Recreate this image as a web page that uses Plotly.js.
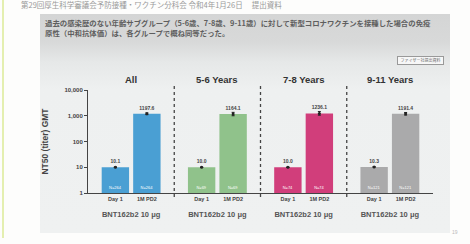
<!DOCTYPE html>
<html><head><meta charset="utf-8">
<script src="https://cdn.plot.ly/plotly-3.0.1.min.js"></script>
<style>
html,body{margin:0;padding:0;background:#fff;}
#wrap{position:relative;width:470px;height:244px;overflow:hidden;background:#fdfdfc;}
#lline{position:absolute;left:2px;top:0;width:2px;height:238px;background:#e4efb0;}
#slide{position:absolute;left:40px;top:14px;width:410px;height:219px;background:linear-gradient(#d4d5d5 0px,#d8d9d9 28px,#e6e8e8 48px,#eef0f0 75px,#eff1f1 100%);}
#hdr{position:absolute;left:21px;top:0px;font:7.5px/9px "Noto Sans CJK JP";color:#9a9a9a;white-space:nowrap;}
#box{position:absolute;left:45px;top:18px;width:405px;font:bold 7.4px/9.5px "Noto Sans CJK JP";color:#5e5e5e;white-space:nowrap;}
#pf{position:absolute;left:397px;top:56px;width:45px;height:7px;background:#f7f7f7;border:1px solid #999;font:4px/7px "Noto Sans CJK JP";color:#666;text-align:center;}
#pg{position:absolute;left:452px;top:229px;font:5px "Liberation Sans";color:#bbb;}
#chart{position:absolute;left:0;top:0;width:470px;height:244px;}
</style></head>
<body><div id="wrap">
<div id="lline"></div>
<div id="slide"></div>
<div id="hdr">第29回厚生科学審議会予防接種・ワクチン分科会 令和4年1月26日　 提出資料</div>
<div id="box">過去の感染歴のない年齢サブグループ（5-6歳、7-8歳、9-11歳）に対して新型コロナワクチンを接種した場合の免疫<br>原性（中和抗体価）は、各グループで概ね同等だった。</div>
<div id="pf">ファイザー社提出資料</div>
<div id="pg">19</div>
<div id="chart"></div>
</div>
<script>
const groups = ["All", "5-6 Years", "7-8 Years", "9-11 Years"];
const timepoints = ["Day 1", "1M PD2"];
const gmtDay1 = [10.1, 10.0, 10.0, 10.3];
const gmtPD2 = [1197.6, 1164.1, 1236.1, 1191.4];
const ciLowPD2 = [1106.1, 1000.2, 1051.4, 1060.0];
const ciHighPD2 = [1296.6, 1354.8, 1453.2, 1339.0];
const nCounts = [264, 69, 74, 121];
const groupLabel = "BNT162b2 10 μg";
const yTickVals = [1, 10, 100, 1000, 10000];
const yTickText = ["1", "10", "100", "1,000", "10,000"];
const colors = ["#4a9fd3", "#90c28b", "#d13e7b", "#aaaaab"];

const traces = [];
const layout = {
  width: 470, height: 244,
  margin: {l: 88, r: 37, t: 90, b: 51},
  paper_bgcolor: "rgba(0,0,0,0)", plot_bgcolor: "rgba(0,0,0,0)",
  showlegend: false, bargap: 0.13,
  font: {family: "Liberation Sans", color: "#333"},
  yaxis: {
    type: "log", range: [0, 4], tickvals: yTickVals, ticktext: yTickText,
    showgrid: false, zeroline: false, showline: true, linecolor: "#444", linewidth: 1,
    ticks: "outside", ticklen: 3, tickcolor: "#444",
    tickfont: {size: 6, family: "Liberation Sans", color: "#444", weight: "bold"},
    title: {text: "NT50 (titer) GMT", font: {size: 8.5, family: "Liberation Sans", color: "#444", weight: "bold"}, standoff: 14}
  },
  annotations: [], shapes: []
};
groups.forEach((g, i) => {
  const k = i === 0 ? "" : String(i + 1);
  const xa = "x" + k;
  layout["xaxis" + k] = {
    domain: [i / 4, (i + 1) / 4], anchor: "y",
    type: "category", categoryorder: "array", categoryarray: timepoints,
    range: [-0.87, 1.87], showgrid: false, zeroline: false,
    showline: true, linecolor: "#444", linewidth: 1, ticks: "",
    tickfont: {size: 5.5, family: "Liberation Sans", color: "#444", weight: "bold"},
    title: {text: groupLabel, font: {size: 7.5, family: "Liberation Sans", color: "#555", weight: "bold"}, standoff: 11}
  };
  const vals = [gmtDay1[i], gmtPD2[i]];
  traces.push({
    type: "bar", x: timepoints, y: vals, xaxis: xa, yaxis: "y",
    marker: {color: colors[i]},
    text: ["N=" + nCounts[i], "N=" + nCounts[i]],
    textposition: "inside", insidetextanchor: "start",
    textfont: {size: 4, color: "#ffffff"}, cliponaxis: false, hoverinfo: "skip"
  });
  traces.push({
    type: "scatter", mode: "markers+text", x: timepoints, y: vals, xaxis: xa, yaxis: "y",
    marker: {color: "#222", size: 3},
    error_y: {type: "data", symmetric: false,
      array: [0.2, ciHighPD2[i] - gmtPD2[i]],
      arrayminus: [0.2, gmtPD2[i] - ciLowPD2[i]],
      color: "#222", thickness: 1, width: 1.5},
    text: vals.map(v => v.toFixed(1)), textposition: "top center",
    textfont: {size: 5, family: "Liberation Sans", color: "#444", weight: "bold"},
    cliponaxis: false, hoverinfo: "skip"
  });
  layout.annotations.push({
    xref: xa + " domain", yref: "paper", x: 0.5, y: 1.025, yanchor: "bottom",
    text: g, showarrow: false,
    font: {size: 9.5, family: "Liberation Sans", color: "#333", weight: "bold"}
  });
  if (i > 0) {
    layout.shapes.push({
      type: "line", xref: "paper", yref: "paper", x0: i / 4, x1: i / 4, y0: -0.04, y1: 1.05,
      line: {color: "#444", width: 1.3, dash: "dot"}
    });
  }
});
Plotly.newPlot("chart", traces, layout, {staticPlot: true});
</script>
</body></html>
